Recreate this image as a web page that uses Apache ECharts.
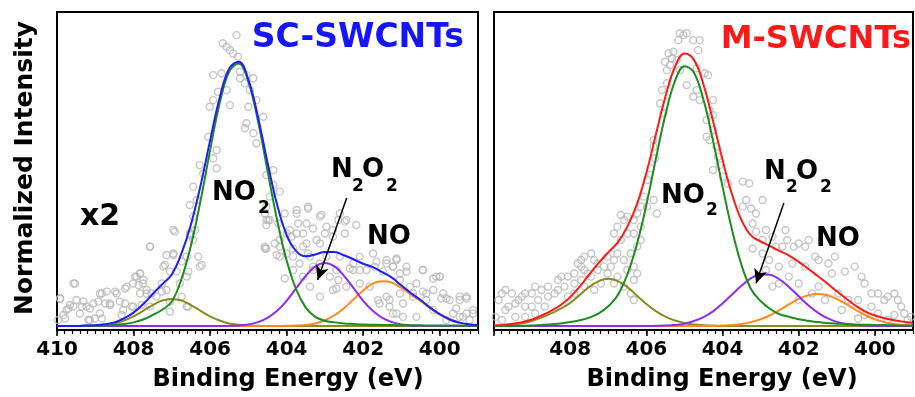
<!DOCTYPE html>
<html>
<head>
<meta charset="utf-8">
<script src="https://cdn.jsdelivr.net/npm/echarts@6.0.0/dist/echarts.min.js"></script>
<style>
html, body { margin: 0; padding: 0; background: #fff; }
#main { width: 915px; height: 397px; }
</style>
</head>
<body>
<div id="main"></div>
<script>
// binding energy grid of the fitted curves (eV), high to low
var energy = [410, 409.75, 409.5, 409.25, 409, 408.75, 408.5, 408.25, 408, 407.75, 407.5, 407.25, 407,
    406.75, 406.5, 406.25, 406, 405.75, 405.5, 405.25, 405, 404.75, 404.5, 404.25, 404, 403.75, 403.5,
    403.25, 403, 402.75, 402.5, 402.25, 402, 401.75, 401.5, 401.25, 401, 400.75, 400.5, 400.25, 400,
    399.75, 399.5, 399.25, 399]

// SC-SWCNTs fit components
var scFit = [0, 0, 0, 0.002, 0.003, 0.007, 0.014, 0.029, 0.051, 0.083, 0.122, 0.159, 0.196, 0.275, 0.386,
    0.534, 0.705, 0.868, 0.979, 1.005, 0.937, 0.796, 0.622, 0.462, 0.346, 0.285, 0.265, 0.272, 0.282,
    0.282, 0.269, 0.254, 0.237, 0.224, 0.205, 0.184, 0.154, 0.125, 0.099, 0.070, 0.045, 0.026, 0.014,
    0.007, 0.004]
var scNO2 = [0, 0, 0, 0.001, 0.001, 0.002, 0.004, 0.008, 0.014, 0.025, 0.042, 0.062, 0.093, 0.178, 0.306,
    0.476, 0.668, 0.847, 0.968, 0.998, 0.929, 0.780, 0.591, 0.404, 0.249, 0.139, 0.070, 0.035, 0.020,
    0.014, 0.010, 0.008, 0.006, 0.005, 0.004, 0.004, 0.003, 0.003, 0.003, 0.002, 0.002, 0.002, 0.002,
    0.001, 0.001]
var scHigh = [0, 0, 0, 0.001, 0.002, 0.005, 0.010, 0.021, 0.037, 0.058, 0.080, 0.097, 0.103, 0.097, 0.080,
    0.058, 0.037, 0.021, 0.010, 0.005, 0.002, 0.001, 0, 0, 0, 0, 0, 0, 0, 0, 0, 0, 0, 0, 0, 0, 0, 0, 0, 0,
    0, 0, 0, 0, 0]
var scN2O2 = [0, 0, 0, 0, 0, 0, 0, 0, 0, 0, 0, 0, 0, 0, 0, 0, 0, 0, 0.001, 0.002, 0.006, 0.015, 0.031,
    0.058, 0.096, 0.144, 0.191, 0.227, 0.240, 0.227, 0.191, 0.144, 0.096, 0.058, 0.031, 0.015, 0.006,
    0.002, 0.001, 0, 0, 0, 0, 0, 0]
var scNO = [0, 0, 0, 0, 0, 0, 0, 0, 0, 0, 0, 0, 0, 0, 0, 0, 0, 0, 0, 0, 0, 0, 0, 0, 0.001, 0.002, 0.004,
    0.010, 0.022, 0.041, 0.068, 0.102, 0.135, 0.161, 0.170, 0.165, 0.145, 0.120, 0.095, 0.068, 0.043,
    0.024, 0.012, 0.006, 0.003]

// M-SWCNTs fit components
var mFit = [0.002, 0.004, 0.009, 0.015, 0.025, 0.040, 0.058, 0.080, 0.110, 0.150, 0.196, 0.240, 0.280,
    0.318, 0.378, 0.462, 0.582, 0.728, 0.872, 0.985, 1.036, 1.012, 0.918, 0.780, 0.632, 0.500, 0.402,
    0.344, 0.322, 0.304, 0.285, 0.268, 0.244, 0.218, 0.190, 0.162, 0.132, 0.104, 0.077, 0.055, 0.040,
    0.030, 0.022, 0.016, 0.012]
var mNO2 = [0, 0, 0.001, 0.001, 0.002, 0.004, 0.007, 0.010, 0.015, 0.022, 0.032, 0.048, 0.075, 0.118,
    0.196, 0.310, 0.461, 0.636, 0.803, 0.931, 0.988, 0.963, 0.860, 0.705, 0.530, 0.365, 0.231, 0.140,
    0.095, 0.065, 0.045, 0.035, 0.026, 0.020, 0.015, 0.012, 0.009, 0.008, 0.006, 0.005, 0.004, 0.004,
    0.003, 0.002, 0.002]
var mHigh = [0, 0.003, 0.006, 0.011, 0.020, 0.032, 0.048, 0.066, 0.088, 0.118, 0.149, 0.171, 0.180, 0.171,
    0.148, 0.116, 0.084, 0.057, 0.036, 0.021, 0.012, 0.006, 0.003, 0.001, 0, 0, 0, 0, 0, 0, 0, 0, 0, 0,
    0, 0, 0, 0, 0, 0, 0, 0, 0, 0, 0]
var mN2O2 = [0, 0, 0, 0, 0, 0, 0, 0, 0, 0, 0, 0, 0, 0, 0, 0, 0, 0.001, 0.002, 0.004, 0.009, 0.019, 0.034,
    0.056, 0.086, 0.120, 0.154, 0.182, 0.197, 0.195, 0.177, 0.148, 0.113, 0.079, 0.051, 0.030, 0.016,
    0.008, 0.004, 0.002, 0.001, 0, 0, 0, 0]
var mNO = [0, 0, 0, 0, 0, 0, 0, 0, 0, 0, 0, 0, 0, 0, 0, 0, 0, 0, 0, 0, 0, 0, 0, 0.001, 0.002, 0.004,
    0.008, 0.015, 0.026, 0.041, 0.061, 0.083, 0.103, 0.117, 0.122, 0.117, 0.103, 0.083, 0.061, 0.041,
    0.026, 0.015, 0.008, 0.004, 0.002]

// measured points [eV, intensity]
var scPoints = [
    [405.31, 1.106], [405.67, 1.075], [405.57, 1.062], [405.48, 1.049], [405.40, 1.036], [405.27, 1.024],
    [405.92, 0.954], [405.70, 0.961], [405.22, 0.967], [405.05, 0.954], [404.87, 0.942], [405.22, 0.942],
    [405.09, 0.923], [405.79, 0.891], [405.57, 0.897], [405.92, 0.859], [405.48, 0.840], [404.96, 0.897],
    [404.79, 0.859], [405.00, 0.834], [404.61, 0.796], [406.01, 0.834], [405.05, 0.771], [405.09, 0.752],
    [406.05, 0.720], [404.87, 0.733], [404.79, 0.695], [405.83, 0.669], [405.92, 0.638], [406.27, 0.612],
    [406.18, 0.580], [405.83, 0.600], [404.35, 0.593], [404.53, 0.574], [406.44, 0.530], [406.35, 0.479],
    [406.53, 0.460], [406.44, 0.416], [404.35, 0.536], [404.18, 0.511], [404.44, 0.492], [404.53, 0.454],
    [404.57, 0.428], [404.53, 0.403], [404.22, 0.390], [403.92, 0.365], [403.74, 0.352], [403.48, 0.390],
    [403.13, 0.416], [403.44, 0.447], [403.74, 0.428], [402.61, 0.428], [402.44, 0.403], [402.79, 0.365],
    [403.00, 0.352], [403.22, 0.327], [403.57, 0.302], [403.83, 0.295], [404.18, 0.302], [404.53, 0.295],
    [404.26, 0.270], [404.00, 0.276], [403.66, 0.238], [403.39, 0.264], [403.13, 0.238], [403.31, 0.213],
    [403.57, 0.188], [403.39, 0.150], [403.13, 0.112], [402.79, 0.137], [402.44, 0.150], [402.87, 0.188],
    [402.70, 0.213], [402.35, 0.219], [402.26, 0.238], [402.09, 0.264], [401.74, 0.276], [401.65, 0.245],
    [401.39, 0.251], [401.13, 0.257], [401.22, 0.226], [401.48, 0.207], [401.04, 0.200], [400.87, 0.226],
    [400.44, 0.213], [400.61, 0.162], [400.78, 0.150], [401.04, 0.124], [401.31, 0.099], [401.57, 0.086],
    [401.13, 0.048], [400.96, 0.086], [400.70, 0.124], [400.35, 0.124], [400.17, 0.137], [400.09, 0.188],
    [400.00, 0.188], [399.91, 0.124], [399.74, 0.099], [399.48, 0.112], [399.30, 0.112], [399.13, 0.048],
    [399.39, 0.035], [399.65, 0.048], [399.83, 0.023], [399.22, 0.023],
    [407.57, 0.302], [407.14, 0.270], [406.96, 0.276], [406.96, 0.365], [407.22, 0.226], [406.88, 0.207],
    [406.61, 0.264], [406.53, 0.352], [406.27, 0.226], [406.61, 0.188], [406.79, 0.162], [407.14, 0.137],
    [407.40, 0.112], [407.66, 0.124], [407.83, 0.124], [407.92, 0.188], [407.83, 0.200], [407.75, 0.162],
    [408.01, 0.162], [408.18, 0.150], [408.44, 0.124], [408.70, 0.131], [408.88, 0.124], [409.05, 0.086],
    [409.23, 0.074], [409.31, 0.093], [409.49, 0.099], [409.66, 0.080], [409.75, 0.061], [409.92, 0.105],
    [409.57, 0.162], [409.83, 0.042], [409.40, 0.048], [409.14, 0.023], [408.88, 0.048], [408.62, 0.086],
    [408.36, 0.093], [408.27, 0.061], [408.01, 0.074], [407.57, 0.074], [407.05, 0.055], [406.61, 0.074],
    [409.97, 0.023],
    [404.53, 0.384], [404.44, 0.403], [404.05, 0.428], [403.74, 0.441], [403.44, 0.454], [403.09, 0.422],
    [403.70, 0.390], [404.00, 0.352], [403.57, 0.352], [403.31, 0.371], [402.96, 0.378], [402.65, 0.403],
    [402.48, 0.397], [402.18, 0.384], [404.57, 0.302], [404.18, 0.327], [403.87, 0.340], [403.48, 0.314],
    [403.13, 0.314], [402.79, 0.340], [402.48, 0.352], [404.18, 0.264], [403.83, 0.264], [403.44, 0.276],
    [404.05, 0.181], [403.83, 0.213], [403.31, 0.226], [402.96, 0.264], [402.61, 0.264], [402.26, 0.213],
    [402.09, 0.213], [401.91, 0.213], [401.70, 0.226], [401.39, 0.238], [401.13, 0.251], [401.22, 0.226],
    [400.87, 0.207], [400.44, 0.213], [400.17, 0.181], [400.00, 0.188], [401.04, 0.175], [402.65, 0.175],
    [402.70, 0.143], [402.09, 0.162], [401.83, 0.150], [401.61, 0.099], [401.39, 0.112], [401.31, 0.074],
    [401.22, 0.048], [400.96, 0.035], [400.70, 0.112], [400.44, 0.131], [400.35, 0.099], [399.96, 0.105],
    [399.83, 0.105], [399.48, 0.099], [399.30, 0.105], [399.57, 0.067], [399.30, 0.048], [399.13, 0.061],
    [399.48, 0.035], [400.61, 0.035], [400.17, 0.061],
    [409.53, 0.162], [409.92, 0.105], [409.70, 0.067], [409.57, 0.074], [409.35, 0.074], [409.14, 0.067],
    [408.83, 0.124], [408.92, 0.093], [408.74, 0.086], [408.61, 0.080], [408.48, 0.131], [408.22, 0.143],
    [407.96, 0.188], [407.83, 0.200], [407.74, 0.175], [407.87, 0.156], [407.66, 0.137], [407.53, 0.124],
    [407.26, 0.131], [407.18, 0.232], [407.57, 0.302], [406.92, 0.359], [406.96, 0.270], [406.74, 0.245],
    [406.53, 0.346], [406.39, 0.365], [406.44, 0.327], [406.31, 0.264], [406.22, 0.232], [406.57, 0.207],
    [407.05, 0.207], [407.26, 0.162], [407.05, 0.093], [406.74, 0.112], [406.57, 0.074], [407.79, 0.080],
    [408.05, 0.074], [408.22, 0.086], [409.18, 0.023], [409.01, 0.029], [408.83, 0.029], [409.79, 0.029],
    [408.31, 0.042], [404.48, 0.403], [404.57, 0.295], [404.31, 0.314]
]
var mPoints = [
    [405.12, 1.113], [405.03, 1.106], [404.94, 1.113], [405.16, 1.087], [404.77, 1.087], [404.60, 1.087],
    [404.64, 1.049], [405.29, 1.043], [405.42, 1.037], [405.33, 1.018], [405.51, 1.005], [405.20, 1.011],
    [405.38, 0.992], [405.46, 0.973], [405.12, 0.973], [404.68, 0.980], [404.47, 0.961], [404.38, 0.954],
    [405.59, 0.897], [405.46, 0.923], [404.94, 0.916], [404.68, 0.897], [404.77, 0.872], [404.60, 0.859],
    [404.25, 0.859], [404.34, 0.821], [404.42, 0.783], [405.64, 0.847], [405.55, 0.809], [404.25, 0.802],
    [404.25, 0.745], [404.34, 0.707], [404.16, 0.682], [404.42, 0.720], [405.81, 0.707], [405.81, 0.682],
    [405.77, 0.638], [405.89, 0.600], [405.98, 0.555], [404.12, 0.644], [404.08, 0.612], [404.25, 0.593],
    [403.99, 0.568], [403.86, 0.542], [403.47, 0.549], [403.30, 0.542], [403.38, 0.479], [403.47, 0.454],
    [403.12, 0.428], [403.25, 0.447], [402.95, 0.479], [403.21, 0.390], [403.12, 0.359], [402.86, 0.365],
    [402.95, 0.327], [402.69, 0.340], [402.60, 0.302], [402.43, 0.302], [402.35, 0.365], [402.30, 0.327],
    [402.13, 0.302], [402.00, 0.314], [401.83, 0.302], [401.74, 0.327], [401.57, 0.264], [401.48, 0.251],
    [401.22, 0.238], [401.05, 0.264], [401.13, 0.200], [400.79, 0.207], [400.53, 0.226], [400.35, 0.188],
    [400.27, 0.162], [400.09, 0.124], [399.92, 0.124], [399.75, 0.099], [399.66, 0.112], [399.49, 0.124],
    [399.40, 0.099], [399.31, 0.074], [399.23, 0.048], [399.05, 0.035], [399.92, 0.048], [400.27, 0.042],
    [400.44, 0.029], [399.66, 0.023], [400.87, 0.061], [401.31, 0.099], [401.65, 0.124], [402.00, 0.162],
    [402.26, 0.188], [402.52, 0.226], [402.78, 0.251], [402.17, 0.238], [401.83, 0.226], [402.95, 0.276],
    [403.21, 0.295], [402.86, 0.213], [402.52, 0.162], [402.69, 0.150], [402.00, 0.099], [401.48, 0.150],
    [400.96, 0.124], [400.70, 0.099], [400.44, 0.099], [400.09, 0.074], [399.49, 0.042], [399.14, 0.023],
    [406.07, 0.492], [406.15, 0.454], [406.24, 0.428], [406.33, 0.403], [406.50, 0.416], [406.59, 0.403],
    [406.67, 0.422], [406.76, 0.378], [406.85, 0.352], [406.67, 0.327], [406.50, 0.352], [406.33, 0.352],
    [406.15, 0.327], [406.24, 0.302], [406.41, 0.276], [406.59, 0.251], [406.76, 0.276], [406.85, 0.251],
    [407.02, 0.264], [407.11, 0.226], [406.93, 0.226], [407.28, 0.238], [407.37, 0.251], [407.45, 0.276],
    [407.63, 0.264], [407.71, 0.251], [407.80, 0.238], [407.71, 0.226], [407.63, 0.213], [407.54, 0.200],
    [407.89, 0.200], [408.06, 0.188], [408.23, 0.188], [408.32, 0.175], [408.15, 0.150], [408.32, 0.137],
    [408.58, 0.150], [408.75, 0.137], [408.92, 0.150], [409.01, 0.124], [409.18, 0.124], [409.27, 0.112],
    [409.36, 0.099], [409.44, 0.086], [409.62, 0.074], [409.70, 0.061], [409.79, 0.124], [409.88, 0.099],
    [409.70, 0.137], [409.53, 0.124], [409.18, 0.074], [409.01, 0.074], [408.84, 0.099], [408.58, 0.112],
    [408.41, 0.124], [408.67, 0.074], [408.92, 0.048], [409.18, 0.035], [409.44, 0.035], [409.79, 0.023],
    [409.96, 0.035], [408.06, 0.112], [407.89, 0.162], [407.71, 0.175], [407.45, 0.188], [407.28, 0.213],
    [407.02, 0.200], [406.76, 0.188], [406.50, 0.213], [406.33, 0.226], [406.24, 0.200], [406.33, 0.175],
    [406.41, 0.124], [406.59, 0.150], [406.85, 0.162], [407.19, 0.162], [407.37, 0.137], [407.63, 0.150],
    [407.89, 0.124], [406.33, 0.099], [405.81, 0.479], [405.72, 0.428], [405.98, 0.454], [406.15, 0.378]
]

var tickValues = [400, 402, 404, 406, 408, 410]
var scLabels = [400, 402, 404, 406, 408, 410]
var mLabels = [400, 402, 404, 406, 408]

// arrow annotations, [from, to] in data units
var scArrow = [[402.43, 0.487], [403.19, 0.175]]
var mArrow = [[402.39, 0.468], [403.12, 0.163]]

var FONT = 'DejaVu Sans'

function pairs(vals) {
    return energy.map(function (e, i) { return [e, vals[i]] })
}

function fitLine(name, vals, color, idx) {
    return {
        name: name,
        type: 'line',
        xAxisIndex: idx * 2,
        yAxisIndex: idx,
        data: pairs(vals),
        smooth: 0.4,
        showSymbol: false,
        silent: true,
        z: 3,
        lineStyle: { color: color, width: 2 }
    }
}

function pointSeries(data, idx, arrow) {
    return {
        type: 'scatter',
        xAxisIndex: idx * 2,
        yAxisIndex: idx,
        data: data,
        symbol: 'circle',
        symbolSize: 7,
        silent: true,
        z: 1,
        itemStyle: { color: 'rgba(0,0,0,0)', borderColor: '#b8b8b8', borderWidth: 1.4 },
        markLine: {
            silent: true,
            symbol: ['none', 'arrow'],
            symbolSize: [10, 14],
            label: { show: false },
            lineStyle: { color: '#000', width: 1.5, type: 'solid' },
            data: [[{ coord: arrow[0] }, { coord: arrow[1] }]]
        }
    }
}

function mainX(grid, labels) {
    return {
        type: 'value', gridIndex: grid, position: 'bottom', min: 399, max: 410, inverse: true,
        axisLine: { show: true, onZero: false, lineStyle: { color: '#000', width: 2 } },
        axisTick: { show: true, inside: false, length: 6, customValues: tickValues, lineStyle: { color: '#000', width: 1.5 } },
        axisLabel: { customValues: labels, margin: 10, color: '#000', fontFamily: FONT, fontWeight: 'bold', fontSize: 20 },
        splitLine: { show: false }
    }
}

// minor ticks every 0.2 eV
function minorX(grid) {
    return {
        type: 'value', gridIndex: grid, position: 'bottom', min: 399, max: 410, interval: 0.2, inverse: true,
        axisLine: { show: false, onZero: false },
        axisTick: { show: true, inside: false, length: 4, lineStyle: { color: '#000', width: 1.2 } },
        axisLabel: { show: false },
        splitLine: { show: false }
    }
}

function yAx(grid) {
    return {
        type: 'value', gridIndex: grid, min: -0.015, max: 1.194,
        axisLine: { show: false }, axisTick: { show: false },
        axisLabel: { show: false }, splitLine: { show: false }
    }
}

function txt(x, y, text, size, color, align, extra) {
    var el = {
        type: 'text', x: x, y: y, z: 10,
        style: {
            text: text, fill: color || '#000', font: 'bold ' + size + 'px "' + FONT + '"',
            textAlign: align || 'left', textVerticalAlign: 'middle'
        }
    }
    if (extra) for (var k in extra) el[k] = extra[k]
    return el
}

var chart = echarts.init(document.getElementById('main'), null, { renderer: 'canvas' })

var option = {
    animation: false,
    backgroundColor: '#fff',
    grid: [
        { left: 57, right: 437, top: 12, bottom: 67, show: true, borderColor: '#000', borderWidth: 2 },
        { left: 494, right: 2, top: 12, bottom: 67, show: true, borderColor: '#000', borderWidth: 2 }
    ],
    xAxis: [mainX(0, scLabels), minorX(0), mainX(1, mLabels), minorX(1)],
    yAxis: [yAx(0), yAx(1)],
    series: [
        pointSeries(scPoints, 0, scArrow),
        fitLine('high', scHigh, '#8b8b24', 0),
        fitLine('NO', scNO, '#ff8a1e', 0),
        fitLine('N2O2', scN2O2, '#8f2bf5', 0),
        fitLine('NO2', scNO2, '#1e8c1e', 0),
        fitLine('fit', scFit, '#1e1eff', 0),
        pointSeries(mPoints, 1, mArrow),
        fitLine('high', mHigh, '#8b8b24', 1),
        fitLine('NO', mNO, '#ff8a1e', 1),
        fitLine('N2O2', mN2O2, '#8f2bf5', 1),
        fitLine('NO2', mNO2, '#1e8c1e', 1),
        fitLine('fit', mFit, '#ff1a1a', 1)
    ],
    graphic: [
        txt(25, 168, 'Normalized Intensity', 25, '#000', 'center', { rotation: Math.PI / 2 }),
        txt(288, 380, 'Binding Energy (eV)', 24, '#000', 'center'),
        txt(722, 380, 'Binding Energy (eV)', 24, '#000', 'center'),
        txt(464, 38, 'SC-SWCNTs', 33, '#1515ff', 'right'),
        txt(911, 40, 'M-SWCNTs', 32, '#ff1a1a', 'right'),
        txt(80, 217, 'x2', 30),
        txt(212, 193, 'NO', 26), txt(258, 209, '2', 17),
        txt(331, 170, 'N', 26), txt(352, 187, '2', 17), txt(362, 170, 'O', 26), txt(386, 187, '2', 17),
        txt(367, 237, 'NO', 26),
        txt(661, 196, 'NO', 26), txt(706, 211, '2', 17),
        txt(764, 172, 'N', 26), txt(786, 188, '2', 17), txt(796, 172, 'O', 26), txt(820, 188, '2', 17),
        txt(816, 239, 'NO', 26)
    ]
}

chart.setOption(option)
</script>
</body>
</html>
